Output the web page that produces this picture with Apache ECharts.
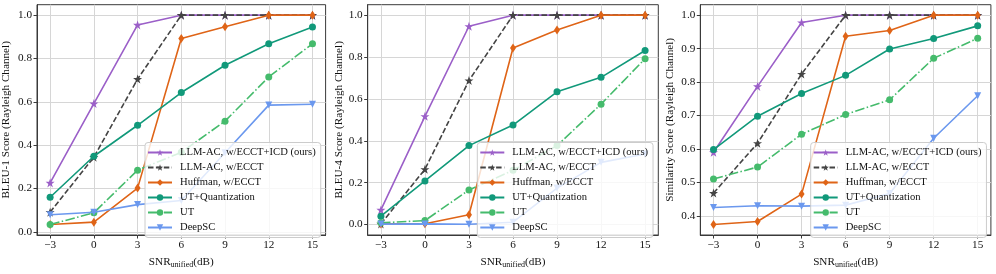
<!DOCTYPE html>
<html>
<head>
<meta charset="utf-8">
<script src="https://cdn.jsdelivr.net/npm/echarts@6/dist/echarts.min.js"></script>
<style>
html,body{margin:0;padding:0;background:#fff;}
#c{width:996px;height:274px;}
</style>
</head>
<body>
<div id="c"></div>
<script>
// ---------- data ----------
const snrValues = [-3, 0, 3, 6, 9, 12, 15];
const xTicks = [-3, 0, 3, 6, 9, 12, 15];
const seriesNames = ['LLM-AC, w/ECCT+ICD (ours)', 'LLM-AC, w/ECCT', 'Huffman, w/ECCT', 'UT+Quantization', 'UT', 'DeepSC'];

// BLEU-1
const bleu1_icd     = [0.226, 0.592, 0.955, 1.0, 1.0, 1.0, 1.0];
const bleu1_ecct    = [0.091, 0.345, 0.705, 1.0, 1.0, 1.0, 1.0];
const bleu1_huffman = [0.034, 0.045, 0.202, 0.892, 0.947, 1.0, 1.0];
const bleu1_utq     = [0.160, 0.349, 0.492, 0.643, 0.769, 0.868, 0.945];
const bleu1_ut      = [0.034, 0.088, 0.285, 0.367, 0.511, 0.715, 0.868];
const bleu1_deepsc  = [0.079, 0.091, 0.126, 0.145, 0.365, 0.585, 0.589];
const bleu1Ticks    = [0.0, 0.2, 0.4, 0.6, 0.8, 1.0];

// BLEU-4
const bleu4_icd     = [0.070, 0.517, 0.947, 1.0, 1.0, 1.0, 1.0];
const bleu4_ecct    = [0.003, 0.264, 0.688, 1.0, 1.0, 1.0, 1.0];
const bleu4_huffman = [0.003, 0.004, 0.047, 0.843, 0.929, 1.0, 1.0];
const bleu4_utq     = [0.040, 0.208, 0.377, 0.475, 0.634, 0.703, 0.831];
const bleu4_ut      = [0.008, 0.019, 0.165, 0.259, 0.377, 0.575, 0.792];
const bleu4_deepsc  = [0.002, 0.003, 0.001, 0.011, 0.174, 0.297, 0.337];
const bleu4Ticks    = [0.0, 0.2, 0.4, 0.6, 0.8, 1.0];

// Similarity
const sim_icd     = [0.590, 0.787, 0.978, 1.0, 1.0, 1.0, 1.0];
const sim_ecct    = [0.468, 0.617, 0.824, 1.0, 1.0, 1.0, 1.0];
const sim_huffman = [0.374, 0.383, 0.465, 0.937, 0.954, 1.0, 1.0];
const sim_utq     = [0.598, 0.698, 0.766, 0.820, 0.899, 0.930, 0.968];
const sim_ut      = [0.510, 0.546, 0.644, 0.703, 0.747, 0.871, 0.931];
const sim_deepsc  = [0.425, 0.430, 0.429, 0.432, 0.467, 0.632, 0.759];
const simTicks    = [0.4, 0.5, 0.6, 0.7, 0.8, 0.9, 1.0];

const yTitles = ['BLEU-1 Score (Rayleigh Channel)', 'BLEU-4 Score (Rayleigh Channel)', 'Similarity Score (Rayleigh Channel)'];

// ---------- styles ----------
const FONT = '"Liberation Serif", "DejaVu Serif", serif';
const FS = 11.2;
const LFS = 10.6;
const STAR = 'path://M50,2 L61.8,36 L97.6,36 L68.6,57 L79.6,91 L50,70 L20.4,91 L31.4,57 L2.4,36 L38.2,36 Z';
const THIN_DIAMOND = 'path://M0,-10 L6,0 L0,10 L-6,0 Z';
const styles = [
  {color: '#9b5fc8', type: 'solid', symbol: STAR, size: 9, rotate: 0},
  {color: '#444444', type: [5.5, 2.4], symbol: STAR, size: 9, rotate: 0},
  {color: '#df6417', type: 'solid', symbol: THIN_DIAMOND, size: [6, 9], rotate: 0},
  {color: '#11997a', type: 'solid', symbol: 'circle', size: 7, rotate: 0},
  {color: '#45bb6c', type: [9.6, 2.4, 1.5, 2.4], symbol: 'circle', size: 7, rotate: 0},
  {color: '#6b98ee', type: 'solid', symbol: 'triangle', size: 7, rotate: 180}
];

const panels = [
  {data: [bleu1_icd, bleu1_ecct, bleu1_huffman, bleu1_utq, bleu1_ut, bleu1_deepsc], ticks: bleu1Ticks, min: -0.0143, max: 1.0483, left: 35, nameGap: 25, legend: {left: 145, top: 142.5}},
  {data: [bleu4_icd, bleu4_ecct, bleu4_huffman, bleu4_utq, bleu4_ut, bleu4_deepsc], ticks: bleu4Ticks, min: -0.05, max: 1.05, left: 367.7, nameGap: 23, legend: {left: 477.3, top: 142.5}},
  {data: [sim_icd, sim_ecct, sim_huffman, sim_utq, sim_ut, sim_deepsc], ticks: simTicks, min: 0.3427, max: 1.0313, left: 700.3, nameGap: 25, legend: {left: 810.7, top: 142.5}}
];

const grids = [], xAxes = [], yAxes = [], series = [], legends = [];
const minus = v => String(v).replace('-', '\u2212');

panels.forEach((p, i) => {
  grids.push({left: p.left, top: 4.7, width: 290.6, height: 236, show: true, borderColor: '#3a3a3a', borderWidth: 1, backgroundColor: 'transparent', containLabel: false});
  xAxes.push({
    type: 'value', gridIndex: i, min: -3.9, max: 15.9,
    name: '{a|SNR}{s|unified}{a|(dB)}', nameLocation: 'middle', nameGap: 20,
    nameTextStyle: {rich: {a: {fontFamily: FONT, fontSize: FS, color: '#111'}, s: {fontFamily: FONT, fontSize: 8, color: '#111', verticalAlign: 'bottom', padding: [6, 0, 0, 0]}}},
    axisLine: {show: true, onZero: false, lineStyle: {color: '#3a3a3a', width: 1}},
    axisTick: {show: true, inside: false, length: 3.5, customValues: xTicks, lineStyle: {color: '#3a3a3a'}},
    axisLabel: {show: true, customValues: xTicks, margin: 5, fontFamily: FONT, fontSize: FS, color: '#111', formatter: minus},
    splitLine: {show: true, lineStyle: {color: '#d6d6d6', width: 1}}
  });
  yAxes.push({
    type: 'value', gridIndex: i, min: p.min, max: p.max,
    name: yTitles[i], nameLocation: 'middle', nameGap: p.nameGap, nameRotate: 90,
    nameTextStyle: {fontFamily: FONT, fontSize: FS, color: '#111'},
    axisLine: {show: true, onZero: false, lineStyle: {color: '#3a3a3a', width: 1}},
    axisTick: {show: true, inside: false, length: 3.5, customValues: p.ticks, lineStyle: {color: '#3a3a3a'}},
    axisLabel: {show: true, customValues: p.ticks, margin: 5, fontFamily: FONT, fontSize: FS, color: '#111', formatter: v => v.toFixed(1)},
    splitLine: {show: true, lineStyle: {color: '#d6d6d6', width: 1}}
  });
  p.data.forEach((vals, k) => {
    const st = styles[k];
    series.push({
      name: seriesNames[k], type: 'line', xAxisIndex: i, yAxisIndex: i,
      data: snrValues.map((x, j) => [x, vals[j]]),
      symbol: st.symbol, symbolSize: st.size, symbolRotate: st.rotate, showSymbol: true,
      lineStyle: {color: st.color, width: 1.6, type: st.type},
      itemStyle: {color: st.color, borderWidth: 0},
      animation: false, silent: true, z: 2 + k * 0.01
    });
  });
  legends.push({
    show: true, orient: 'vertical', left: p.legend.left, top: p.legend.top,
    data: seriesNames, itemWidth: 24, itemHeight: 8, itemGap: 3,
    padding: [4, 5, 4, 2],
    backgroundColor: 'rgba(255,255,255,0.8)', borderColor: '#cccccc', borderWidth: 1, borderRadius: 3,
    textStyle: {fontFamily: FONT, fontSize: LFS, color: '#111', lineHeight: 12, padding: [0, 0, 0, 3]},
    selectedMode: false, z: 10
  });
});

const chart = echarts.init(document.getElementById('c'), null, {renderer: 'canvas'});
chart.setOption({
  animation: false,
  backgroundColor: '#ffffff',
  grid: grids, xAxis: xAxes, yAxis: yAxes, series: series, legend: legends
});
</script>
</body>
</html>
